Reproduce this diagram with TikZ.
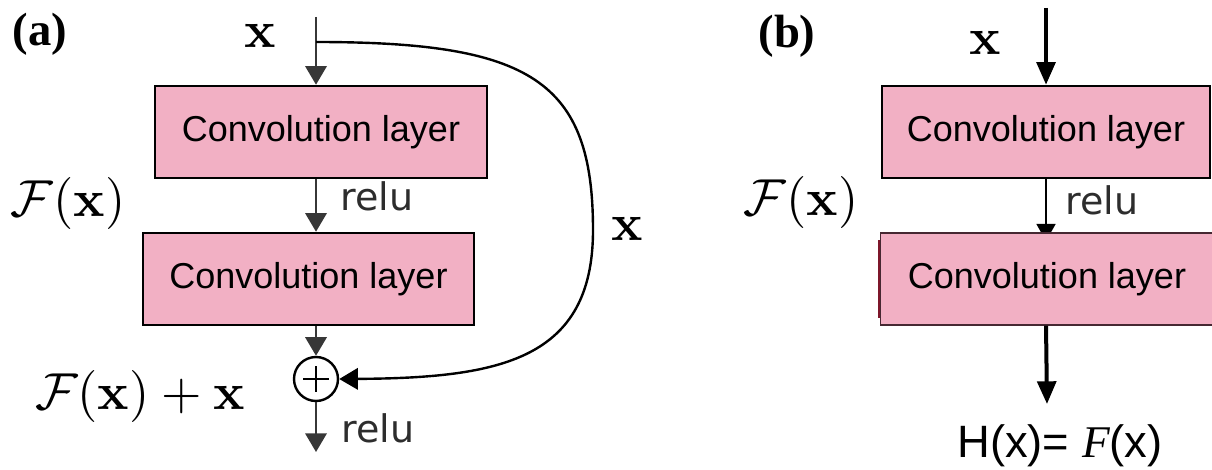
\documentclass[tikz,border=0pt]{standalone}
\usepackage{graphicx}
\usepackage[no-math]{fontspec}
\setmainfont{Liberation Serif}
\setsansfont{Liberation Sans}
\newfontfamily\relufont{DejaVu Sans}
\usetikzlibrary{arrows.meta,calc}

\definecolor{boxpink}{RGB}{242,176,196}
\definecolor{arrowgray}{RGB}{55,55,55}
\definecolor{relugray}{RGB}{45,45,45}
\definecolor{edgered}{RGB}{125,22,42}
\definecolor{thinedge}{RGB}{70,40,50}

% math labels set at 10pt and enlarged
\newcommand{\mlab}[1]{\scalebox{3.9}{$#1$}}

\begin{document}
\begin{tikzpicture}[x=0.75pt,y=-0.75pt,
  convbox/.style={draw=black, line width=1.9pt, fill=boxpink, minimum height=69pt,
    inner sep=0pt, font=\sffamily\fontsize{27}{32}\selectfont},
  garrow/.style={draw=arrowgray, line width=1.9pt, -{Triangle[length=14pt,width=16pt]}},
  barrow/.style={draw=black, line width=3pt, -{Triangle[length=17pt,width=14pt]}},
  mathlbl/.style={inner sep=0pt},
  relulbl/.style={inner sep=0pt, font=\relufont\fontsize{28.5}{34}\selectfont, text=relugray},
  panel/.style={inner sep=0pt, font=\bfseries\fontsize{35}{40}\selectfont}]
\useasboundingbox (0,0) rectangle (1212,470);

% ---------- (a) residual block ----------
\node[panel] (pa) at (40,34) {(a)};
\coordinate (xin) at (316,17);
\coordinate (split) at (316,42);
\node[mathlbl] (xa) at (260,36) {\mlab{\mathbf{x}}};
\node[convbox, minimum width=249pt] (a1) at (321,132) {Convolution layer};
\node[convbox, minimum width=248pt] (a2) at (308.5,279) {Convolution layer};
\node[circle, draw=black, line width=1.8pt, minimum size=33pt, inner sep=0pt] (sum) at (316,379) {};
\draw[line width=1.6pt] ($(sum.center)+(-13,0)$) -- ($(sum.center)+(13,0)$);
\draw[line width=1.6pt] ($(sum.center)+(0,-13)$) -- ($(sum.center)+(0,13)$);
\coordinate (aout) at (316,452);

\draw[garrow] (xin) -- (xin |- a1.north);
\draw[garrow] (a1.south -| xin) -- (a2.north -| xin);
\draw[garrow] (a2.south -| xin) -- (sum.north);
\draw[garrow] (sum.south) -- (aout);

% identity shortcut
\draw[black, line width=1.8pt, -{Triangle[length=14pt,width=16pt]}]
  (split) .. controls (530,42) and (593,80) .. (593,230)
          .. controls (593,360) and (500,378) .. (sum.east);

\node[mathlbl] (fa) at (68,204) {\mlab{\mathcal{F}(\mathbf{x})}};
\node[relulbl] (r1) at (377,196) {relu};
\node[mathlbl] (xs) at (627,229) {\mlab{\mathbf{x}}};
\node[mathlbl] (fsum) at (140,396) {\mlab{\mathcal{F}(\mathbf{x})+\mathbf{x}}};
\node[relulbl] (r2) at (378,428) {relu};

% ---------- (b) plain block ----------
\node[panel] (pb) at (787,36) {(b)};
\coordinate (bin) at (1046,8);
\node[mathlbl] (xb) at (985,43) {\mlab{\mathbf{x}}};
\node[convbox, minimum width=246pt] (b1) at (1046,132) {Convolution layer};
\fill[edgered] (878,240) rectangle (884,318);
\draw[black, line width=2pt, -{Triangle[length=13pt,width=14pt]}] (b1.south -| bin) -- ($(b1.south -| bin)+(0,62)$);
\node[convbox, draw=thinedge, line width=0.8pt, minimum width=250pt] (b2) at (1047,279) {Convolution layer};
\coordinate (bout) at (1047,404);
\draw[barrow] (bin) -- (b1.north -| bin);
\draw[barrow] (b2.south -| bin) -- (bout);

\node[mathlbl] (fb) at (801,202) {\mlab{\mathcal{F}(\mathbf{x})}};
\node[relulbl] (r3) at (1102,200) {relu};
\node[inner sep=0pt, font=\sffamily\fontsize{34}{40}\selectfont] (hb) at (1060,446)
  {H(x)= {\rmfamily\itshape F}(x)};
\end{tikzpicture}
\end{document}
